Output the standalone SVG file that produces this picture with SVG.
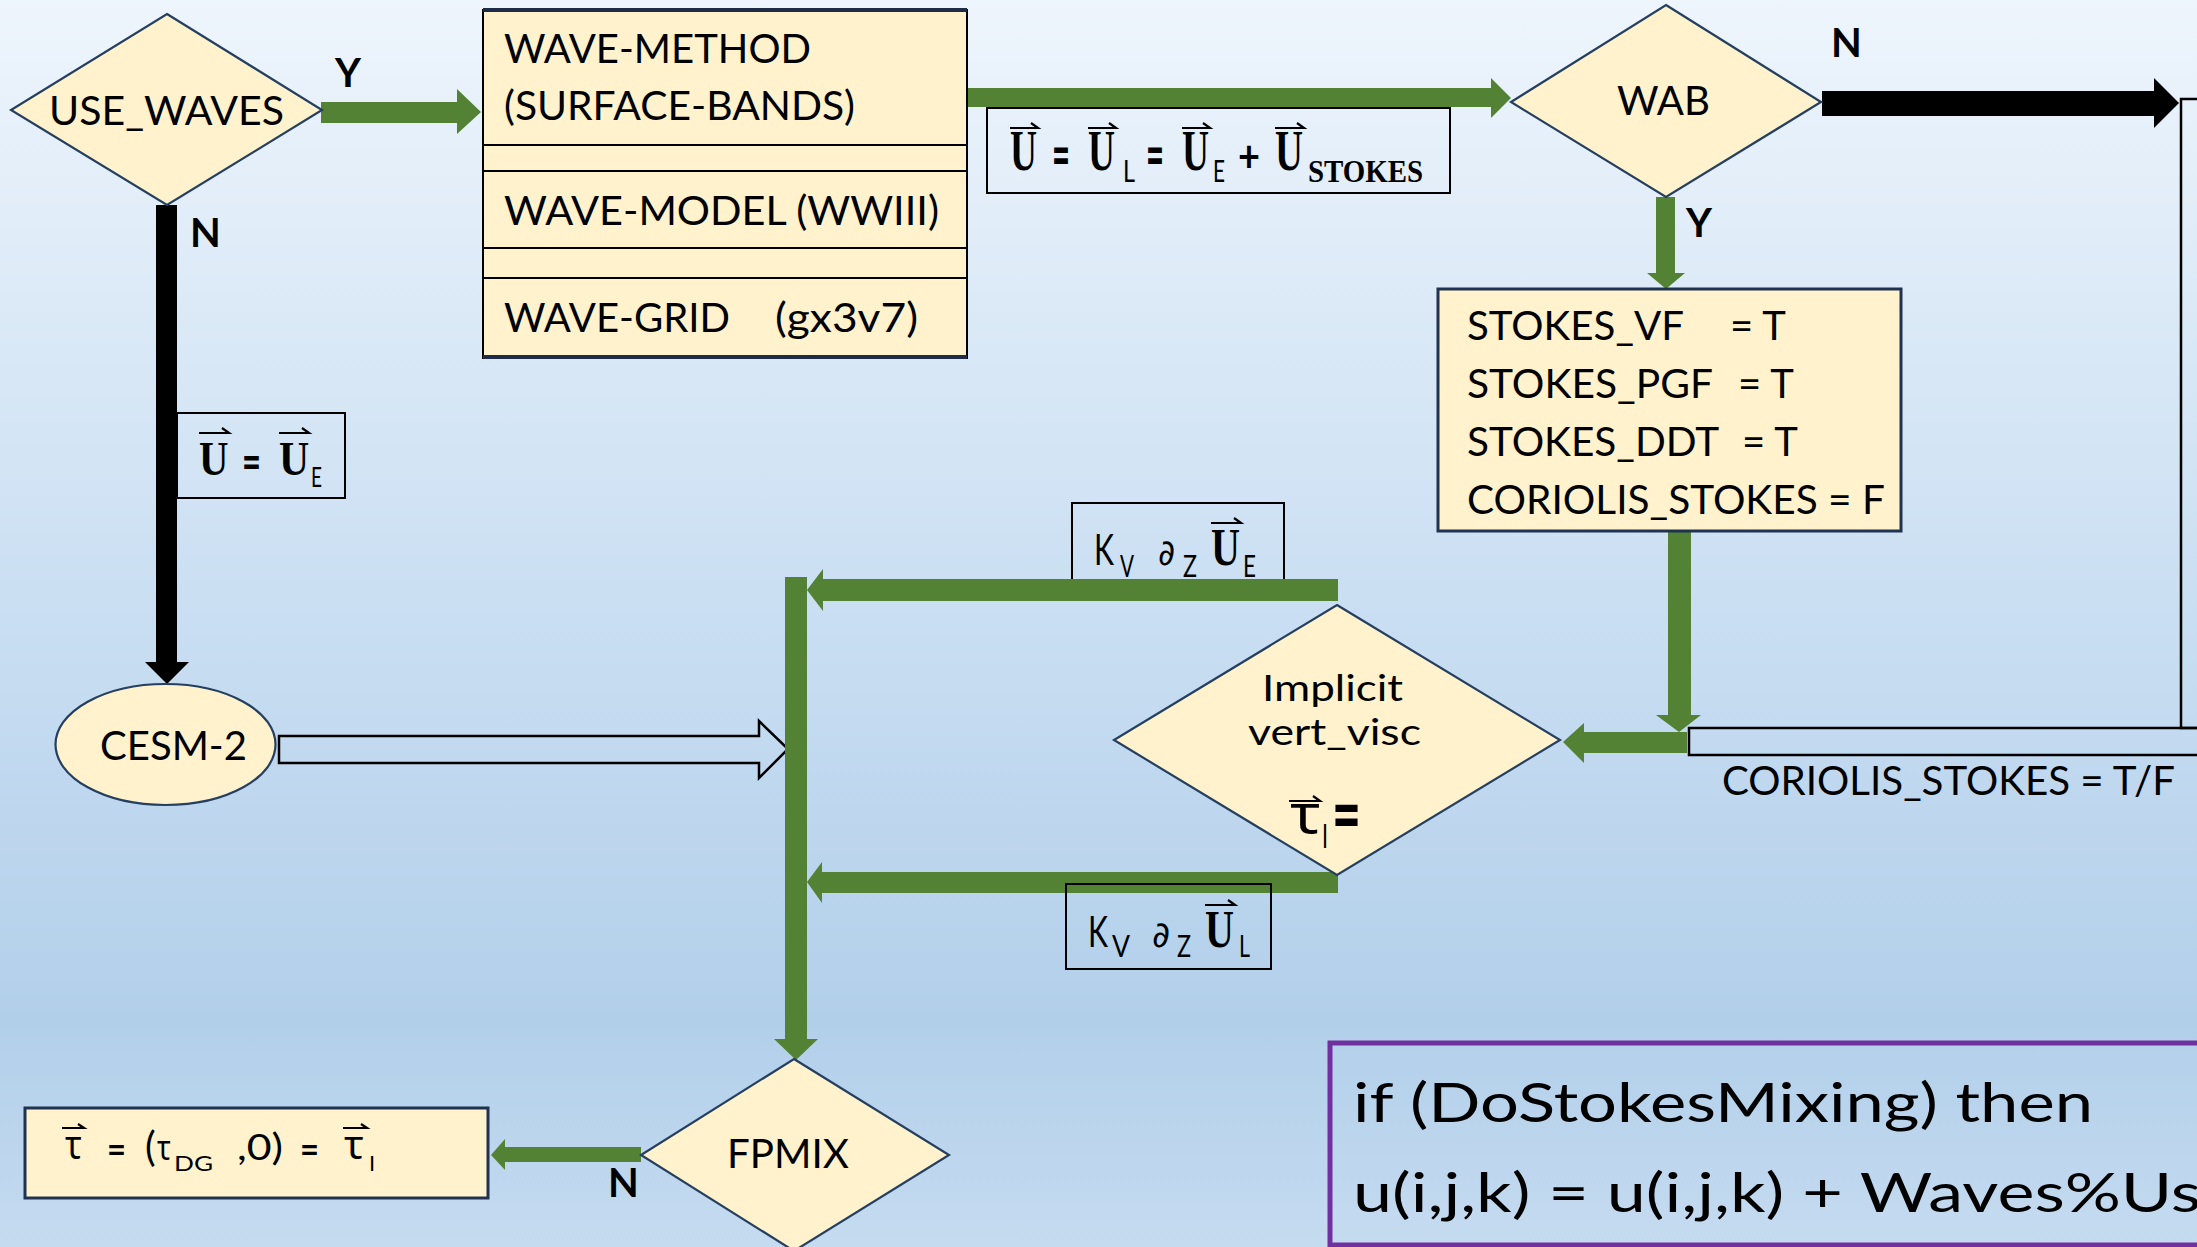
<svg xmlns="http://www.w3.org/2000/svg" width="2197" height="1247" viewBox="0 0 2197 1247">
<defs>
<linearGradient id="bg" x1="0" y1="0" x2="0" y2="1">
<stop offset="0" stop-color="#eef5fc"/>
<stop offset="0.5" stop-color="#c9def2"/>
<stop offset="0.82" stop-color="#b2cfea"/>
<stop offset="1" stop-color="#c5dbf0"/>
</linearGradient>
<style>
.node{fill:#fff2cc;stroke:#243f60;stroke-width:2.2}
.box{fill:#fff2cc;stroke:#1f3350;stroke-width:3}
.t{font-family:Lato,'Liberation Sans',sans-serif;fill:#000}
.b{font-weight:bold}
.g{fill:#548235}
.k{fill:#000}
.hollow{fill:none;stroke:#000;stroke-width:2.5}
.lbl{fill:none;stroke:#000;stroke-width:2}
.u{font-family:'Liberation Serif','DejaVu Serif',serif;font-weight:bold;fill:#000}
.vec{fill:none;stroke:#000;stroke-width:2.2}
.gr{font-family:'Noto Sans','DejaVu Sans',sans-serif;fill:#000}
.dv{font-family:'DejaVu Sans',sans-serif;fill:#000}
.sep{stroke:#000;stroke-width:1.8}
</style>
</defs>
<rect x="0" y="0" width="2197" height="1247" fill="url(#bg)"/>

<g id="label-kv-ue">
<rect class="lbl" x="1072" y="503" width="212" height="80"/>
<text class="t" x="1094" y="565" font-size="42" textLength="20" lengthAdjust="spacingAndGlyphs">K</text>
<text class="t" x="1120" y="577" font-size="30" textLength="14" lengthAdjust="spacingAndGlyphs">V</text>
<text class="dv" x="1158" y="565" font-size="36" textLength="17" lengthAdjust="spacingAndGlyphs">∂</text>
<text class="t" x="1183" y="577" font-size="30" textLength="14" lengthAdjust="spacingAndGlyphs">Z</text>
<text class="u" transform="translate(1211 565) scale(0.77 1)" font-size="52">U</text>
<path class="vec" d="M1211 523H1241l-7-5"/>
<text class="t" x="1243" y="577" font-size="30" textLength="13" lengthAdjust="spacingAndGlyphs">E</text>
</g>

<g id="connectors">
<polygon class="g" points="321,102 457,102 457,89 481,112 457,134 457,123 321,123"/>
<polygon class="k" points="156,205 177,205 177,662 189,662 167,684 145,662 156,662"/>
<polygon class="g" points="967,88 1491,88 1491,78 1511,98 1491,118 1491,107 967,107"/>
<polygon class="k" points="1822,91 2154,91 2154,78 2179,103 2154,128 2154,116 1822,116"/>
<polygon class="g" points="1656,197 1675,197 1675,273 1685,273 1666,289 1647,273 1656,273"/>
<polygon class="g" points="1668,531 1691,531 1691,715 1701,715 1679,732 1656,715 1668,715"/>
<polygon class="g" points="1687,732 1687,753 1584,753 1584,763 1563,742 1584,723 1584,732"/>
<rect class="hollow" x="2181" y="99" width="20" height="629"/>
<rect class="hollow" x="1689" y="728" width="512" height="27"/>
<polygon class="hollow" points="279,736 759,736 759,721 788,749 759,778 759,763 279,763"/>
<polygon class="g" points="785,577 807,577 807,1039 818,1039 796,1060 774,1039 785,1039"/>
<polygon class="g" points="1338,579 1338,601 823,601 823,611 807,590 823,569 823,579"/>
<polygon class="g" points="1338,872 1338,893 822,893 822,903 807,882 822,862 822,872"/>
<polygon class="g" points="641,1147 641,1162 505,1162 505,1170 491,1155 505,1139 505,1147"/>
</g>

<g id="edge-labels">
<text class="t b" x="335" y="87" font-size="40">Y</text>
<text class="t b" x="190" y="247" font-size="40">N</text>
<text class="t b" x="1831" y="57" font-size="40">N</text>
<text class="t b" x="1686" y="237" font-size="40">Y</text>
<text class="t b" x="608" y="1197" font-size="40">N</text>
<text class="t" x="1722" y="795" font-size="40" textLength="453" lengthAdjust="spacingAndGlyphs">CORIOLIS_STOKES = T/F</text>
</g>

<g id="use-waves">
<polygon class="node" points="167,14 322,110 167,205 11,110"/>
<text class="t" x="49" y="125" font-size="40" textLength="235" lengthAdjust="spacingAndGlyphs">USE_WAVES</text>
</g>

<g id="wave-config">
<rect x="483" y="10" width="484" height="348" fill="#fff2cc" stroke="#000" stroke-width="2"/>
<line x1="483" y1="10" x2="967" y2="10" stroke="#1c2d45" stroke-width="4"/>
<line x1="483" y1="357" x2="967" y2="357" stroke="#1c2d45" stroke-width="4"/>
<line class="sep" x1="483" y1="145" x2="967" y2="145"/>
<line class="sep" x1="483" y1="171" x2="967" y2="171"/>
<line class="sep" x1="483" y1="248" x2="967" y2="248"/>
<line class="sep" x1="483" y1="278" x2="967" y2="278"/>
<text class="t" x="504" y="63" font-size="40" textLength="307" lengthAdjust="spacingAndGlyphs">WAVE-METHOD</text>
<text class="t" x="504" y="120" font-size="40" textLength="351" lengthAdjust="spacingAndGlyphs">(SURFACE-BANDS)</text>
<text class="t" x="504" y="225" font-size="40" textLength="435" lengthAdjust="spacingAndGlyphs">WAVE-MODEL (WWIII)</text>
<text class="t" x="504" y="332" font-size="40" textLength="226" lengthAdjust="spacingAndGlyphs">WAVE-GRID</text>
<text class="t" x="775" y="332" font-size="40" textLength="143" lengthAdjust="spacingAndGlyphs">(gx3v7)</text>
</g>

<g id="label-u-stokes">
<rect class="lbl" x="987" y="108" width="463" height="85"/>
<text class="u" transform="translate(1010 170) scale(0.645 1)" font-size="58">U</text>
<path class="vec" d="M1010 128H1038l-7-5"/>
<text class="t b" x="1052" y="176" font-size="62" textLength="18" lengthAdjust="spacingAndGlyphs">=</text>
<text class="u" transform="translate(1088 170) scale(0.645 1)" font-size="58">U</text>
<path class="vec" d="M1088 128H1116l-7-5"/>
<text class="t" x="1123" y="182" font-size="30" textLength="12" lengthAdjust="spacingAndGlyphs">L</text>
<text class="t b" x="1146" y="176" font-size="62" textLength="18" lengthAdjust="spacingAndGlyphs">=</text>
<text class="u" transform="translate(1182 170) scale(0.645 1)" font-size="58">U</text>
<path class="vec" d="M1182 128H1210l-7-5"/>
<text class="t" x="1213" y="182" font-size="30" textLength="12" lengthAdjust="spacingAndGlyphs">E</text>
<text class="t b" x="1238" y="172" font-size="44" textLength="22" lengthAdjust="spacingAndGlyphs">+</text>
<text class="u" transform="translate(1275 170) scale(0.67 1)" font-size="58">U</text>
<path class="vec" d="M1275 128H1304l-7-5"/>
<text class="u" x="1308" y="182" font-size="32" textLength="115" lengthAdjust="spacingAndGlyphs">STOKES</text>
</g>

<g id="label-u-ue">
<rect class="lbl" x="177" y="413" width="168" height="85"/>
<text class="u" transform="translate(199 475) scale(0.85 1)" font-size="48">U</text>
<path class="vec" d="M199 433H229l-7-5"/>
<text class="t b" x="242" y="479" font-size="48" textLength="19" lengthAdjust="spacingAndGlyphs">=</text>
<text class="u" transform="translate(279 475) scale(0.87 1)" font-size="48">U</text>
<path class="vec" d="M279 433H309l-7-5"/>
<text class="t" x="311" y="487" font-size="27" textLength="11" lengthAdjust="spacingAndGlyphs">E</text>
</g>

<g id="wab">
<polygon class="node" points="1666,5 1821,102 1666,197 1511,102"/>
<text class="t" x="1617" y="115" font-size="40" textLength="93" lengthAdjust="spacingAndGlyphs">WAB</text>
</g>

<g id="stokes-flags">
<rect class="box" x="1438" y="289" width="463" height="242"/>
<text class="t" x="1467" y="340" font-size="40"><tspan textLength="216" lengthAdjust="spacingAndGlyphs">STOKES_VF</tspan> <tspan x="1730">= T</tspan></text>
<text class="t" x="1467" y="398" font-size="40"><tspan textLength="245" lengthAdjust="spacingAndGlyphs">STOKES_PGF</tspan> <tspan x="1738">= T</tspan></text>
<text class="t" x="1467" y="456" font-size="40"><tspan textLength="251" lengthAdjust="spacingAndGlyphs">STOKES_DDT</tspan> <tspan x="1742">= T</tspan></text>
<text class="t" x="1467" y="514" font-size="40" textLength="418" lengthAdjust="spacingAndGlyphs">CORIOLIS_STOKES = F</text>
</g>

<g id="cesm2">
<ellipse class="node" cx="165.5" cy="744.5" rx="110" ry="60.5"/>
<text class="t" x="100" y="760" font-size="40" textLength="147" lengthAdjust="spacingAndGlyphs">CESM-2</text>
</g>

<g id="implicit-vert-visc">
<polygon class="node" points="1337,605 1560,740 1337,875 1114,740"/>
<text class="t" x="1262" y="701" font-size="37" textLength="141" lengthAdjust="spacingAndGlyphs">Implicit</text>
<text class="t" x="1248" y="745" font-size="37" textLength="173" lengthAdjust="spacingAndGlyphs">vert_visc</text>
<text class="gr" x="1290" y="833" font-size="54" textLength="31" lengthAdjust="spacingAndGlyphs">τ</text>
<path class="vec" d="M1289 801H1320l-7-5"/>
<text class="t" x="1322" y="848" font-size="32" textLength="6" lengthAdjust="spacingAndGlyphs">I</text>
<text class="t b" x="1332" y="842" font-size="80" textLength="29" lengthAdjust="spacingAndGlyphs">=</text>
</g>

<g id="label-kv-ul">
<rect class="lbl" x="1066" y="884" width="205" height="85"/>
<text class="t" x="1088" y="947" font-size="42" textLength="20" lengthAdjust="spacingAndGlyphs">K</text>
<text class="t" x="1112" y="957" font-size="30" textLength="18" lengthAdjust="spacingAndGlyphs">V</text>
<text class="dv" x="1152" y="947" font-size="36" textLength="18" lengthAdjust="spacingAndGlyphs">∂</text>
<text class="t" x="1177" y="957" font-size="30" textLength="14" lengthAdjust="spacingAndGlyphs">Z</text>
<text class="u" transform="translate(1205 947) scale(0.77 1)" font-size="52">U</text>
<path class="vec" d="M1205 905H1235l-7-5"/>
<text class="t" x="1239" y="957" font-size="30" textLength="11" lengthAdjust="spacingAndGlyphs">L</text>
</g>

<g id="fpmix">
<polygon class="node" points="794,1059 949,1155 794,1251 641,1155"/>
<text class="t" x="727" y="1168" font-size="40" textLength="122" lengthAdjust="spacingAndGlyphs">FPMIX</text>
</g>

<g id="tau-box">
<rect class="box" x="25" y="1108" width="463" height="90"/>
<text class="gr" x="65" y="1159" font-size="40" textLength="17" lengthAdjust="spacingAndGlyphs">τ</text>
<path class="vec" d="M62 1128H84l-6-4"/>
<text class="t b" x="107" y="1162" font-size="36" textLength="19" lengthAdjust="spacingAndGlyphs">=</text>
<text class="t" x="145" y="1161" font-size="40">(</text>
<text class="gr" x="157" y="1160" font-size="34" textLength="14" lengthAdjust="spacingAndGlyphs">τ</text>
<text class="t" x="174" y="1171" font-size="21" textLength="39" lengthAdjust="spacingAndGlyphs">DG</text>
<text class="t" x="237" y="1160" font-size="36" textLength="46" lengthAdjust="spacingAndGlyphs">,0)</text>
<text class="t b" x="300" y="1162" font-size="36" textLength="19" lengthAdjust="spacingAndGlyphs">=</text>
<text class="gr" x="344" y="1159" font-size="40" textLength="20" lengthAdjust="spacingAndGlyphs">τ</text>
<path class="vec" d="M343 1128H367l-6-4"/>
<text class="t" x="369" y="1171" font-size="22">I</text>
</g>

<g id="stokes-mixing-code">
<rect x="1330" y="1043" width="900" height="202" fill="none" stroke="#7030a0" stroke-width="5"/>
<text class="t" x="1353" y="1122" font-size="54" textLength="740" lengthAdjust="spacingAndGlyphs">if (DoStokesMixing) then</text>
<text class="t" x="1353" y="1212" font-size="54" textLength="848" lengthAdjust="spacingAndGlyphs">u(i,j,k) = u(i,j,k) + Waves%Us</text>
</g>
</svg>
